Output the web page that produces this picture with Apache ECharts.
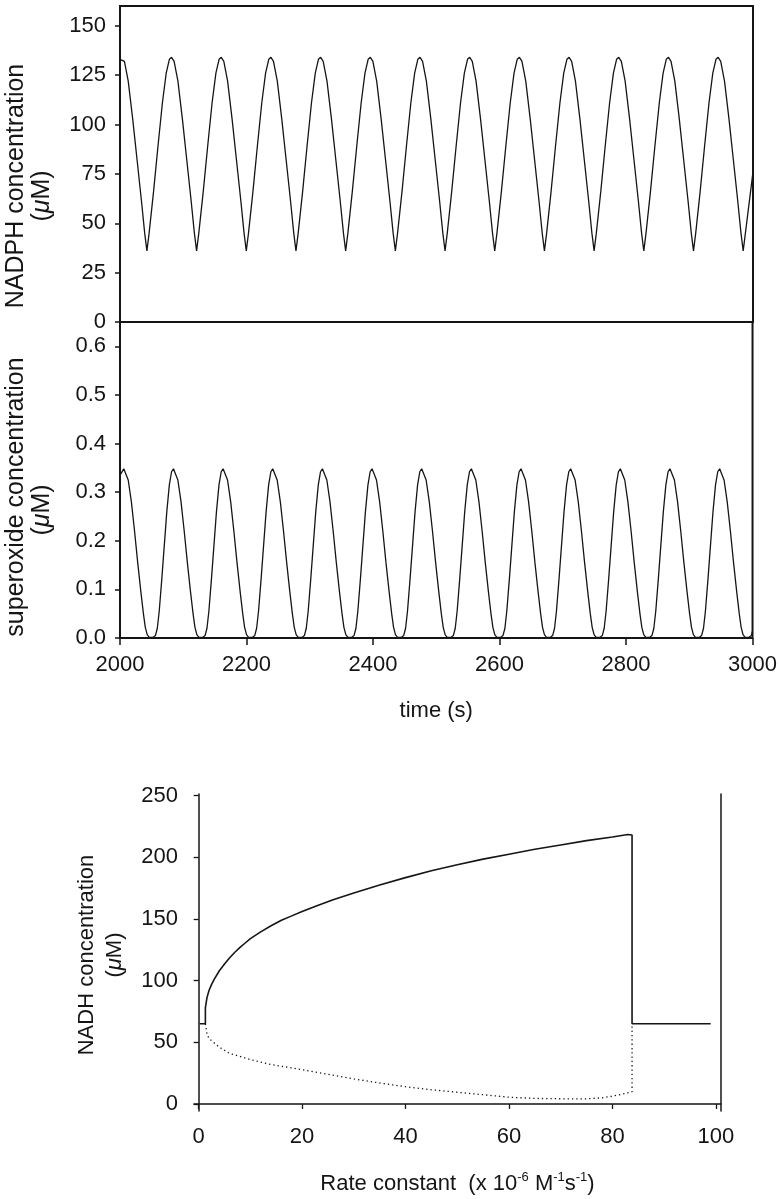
<!DOCTYPE html>
<html>
<head>
<meta charset="utf-8">
<script src="https://cdn.jsdelivr.net/npm/echarts@6/dist/echarts.min.js"></script>
<style>
html,body{margin:0;padding:0;background:#fff;}
#c{width:780px;height:1199px;}
</style>
</head>
<body>
<div id="c"></div>
<script>
// ---------- Panel A: NADPH (µM) vs time (s) ----------
var nadphTime = [
  2000,
  2003, 2007, 2013, 2020, 2027, 2034, 2039, 2042.5, 2046, 2053, 2060, 2067, 2073, 2078,
  2081.5, 2085.5, 2091.5, 2098.5, 2105.5, 2112.5, 2117.5, 2121, 2124.5, 2131.5, 2138.5, 2145.5, 2151.5, 2156.5,
  2160, 2164, 2170, 2177, 2184, 2191, 2196, 2199.5, 2203, 2210, 2217, 2224, 2230, 2235,
  2238.5, 2242.5, 2248.5, 2255.5, 2262.5, 2269.5, 2274.5, 2278, 2281.5, 2288.5, 2295.5, 2302.5, 2308.5, 2313.5,
  2317, 2321, 2327, 2334, 2341, 2348, 2353, 2356.5, 2360, 2367, 2374, 2381, 2387, 2392,
  2395.5, 2399.5, 2405.5, 2412.5, 2419.5, 2426.5, 2431.5, 2435, 2438.5, 2445.5, 2452.5, 2459.5, 2465.5, 2470.5,
  2474, 2478, 2484, 2491, 2498, 2505, 2510, 2513.5, 2517, 2524, 2531, 2538, 2544, 2549,
  2552.5, 2556.5, 2562.5, 2569.5, 2576.5, 2583.5, 2588.5, 2592, 2595.5, 2602.5, 2609.5, 2616.5, 2622.5, 2627.5,
  2631, 2635, 2641, 2648, 2655, 2662, 2667, 2670.5, 2674, 2681, 2688, 2695, 2701, 2706,
  2709.5, 2713.5, 2719.5, 2726.5, 2733.5, 2740.5, 2745.5, 2749, 2752.5, 2759.5, 2766.5, 2773.5, 2779.5, 2784.5,
  2788, 2792, 2798, 2805, 2812, 2819, 2824, 2827.5, 2831, 2838, 2845, 2852, 2858, 2863,
  2866.5, 2870.5, 2876.5, 2883.5, 2890.5, 2897.5, 2902.5, 2906, 2909.5, 2916.5, 2923.5, 2930.5, 2936.5, 2941.5,
  2945, 2949, 2955, 2962, 2969, 2976, 2981, 2984.5, 2988, 3000
];
var nadphValue = [
  133,
  134, 132, 122, 103, 82, 61, 45, 36, 45, 66, 89, 111, 126, 133,
  134, 132, 122, 103, 82, 61, 45, 36, 45, 66, 89, 111, 126, 133,
  134, 132, 122, 103, 82, 61, 45, 36, 45, 66, 89, 111, 126, 133,
  134, 132, 122, 103, 82, 61, 45, 36, 45, 66, 89, 111, 126, 133,
  134, 132, 122, 103, 82, 61, 45, 36, 45, 66, 89, 111, 126, 133,
  134, 132, 122, 103, 82, 61, 45, 36, 45, 66, 89, 111, 126, 133,
  134, 132, 122, 103, 82, 61, 45, 36, 45, 66, 89, 111, 126, 133,
  134, 132, 122, 103, 82, 61, 45, 36, 45, 66, 89, 111, 126, 133,
  134, 132, 122, 103, 82, 61, 45, 36, 45, 66, 89, 111, 126, 133,
  134, 132, 122, 103, 82, 61, 45, 36, 45, 66, 89, 111, 126, 133,
  134, 132, 122, 103, 82, 61, 45, 36, 45, 66, 89, 111, 126, 133,
  134, 132, 122, 103, 82, 61, 45, 36, 45, 66, 89, 111, 126, 133,
  134, 132, 122, 103, 82, 61, 45, 36, 45, 76
];

// ---------- Panel B: superoxide (µM) vs time (s) ----------
var superoxideTime = [
  2000,
  2006, 2009, 2013, 2018, 2023, 2028, 2033, 2037, 2040, 2043, 2046, 2052, 2056, 2059, 2062, 2066, 2070, 2074, 2078, 2081.5,
  2084.5, 2087.5, 2091.5, 2096.5, 2101.5, 2106.5, 2111.5, 2115.5, 2118.5, 2121.5, 2124.5, 2130.5, 2134.5, 2137.5, 2140.5, 2144.5, 2148.5, 2152.5, 2156.5, 2160,
  2163, 2166, 2170, 2175, 2180, 2185, 2190, 2194, 2197, 2200, 2203, 2209, 2213, 2216, 2219, 2223, 2227, 2231, 2235, 2238.5,
  2241.5, 2244.5, 2248.5, 2253.5, 2258.5, 2263.5, 2268.5, 2272.5, 2275.5, 2278.5, 2281.5, 2287.5, 2291.5, 2294.5, 2297.5, 2301.5, 2305.5, 2309.5, 2313.5, 2317,
  2320, 2323, 2327, 2332, 2337, 2342, 2347, 2351, 2354, 2357, 2360, 2366, 2370, 2373, 2376, 2380, 2384, 2388, 2392, 2395.5,
  2398.5, 2401.5, 2405.5, 2410.5, 2415.5, 2420.5, 2425.5, 2429.5, 2432.5, 2435.5, 2438.5, 2444.5, 2448.5, 2451.5, 2454.5, 2458.5, 2462.5, 2466.5, 2470.5, 2474,
  2477, 2480, 2484, 2489, 2494, 2499, 2504, 2508, 2511, 2514, 2517, 2523, 2527, 2530, 2533, 2537, 2541, 2545, 2549, 2552.5,
  2555.5, 2558.5, 2562.5, 2567.5, 2572.5, 2577.5, 2582.5, 2586.5, 2589.5, 2592.5, 2595.5, 2601.5, 2605.5, 2608.5, 2611.5, 2615.5, 2619.5, 2623.5, 2627.5, 2631,
  2634, 2637, 2641, 2646, 2651, 2656, 2661, 2665, 2668, 2671, 2674, 2680, 2684, 2687, 2690, 2694, 2698, 2702, 2706, 2709.5,
  2712.5, 2715.5, 2719.5, 2724.5, 2729.5, 2734.5, 2739.5, 2743.5, 2746.5, 2749.5, 2752.5, 2758.5, 2762.5, 2765.5, 2768.5, 2772.5, 2776.5, 2780.5, 2784.5, 2788,
  2791, 2794, 2798, 2803, 2808, 2813, 2818, 2822, 2825, 2828, 2831, 2837, 2841, 2844, 2847, 2851, 2855, 2859, 2863, 2866.5,
  2869.5, 2872.5, 2876.5, 2881.5, 2886.5, 2891.5, 2896.5, 2900.5, 2903.5, 2906.5, 2909.5, 2915.5, 2919.5, 2922.5, 2925.5, 2929.5, 2933.5, 2937.5, 2941.5, 2945,
  2948, 2951, 2955, 2960, 2965, 2970, 2975, 2979, 2982, 2985, 2988, 2994, 2998, 3000
];
var superoxideValue = [
  0.335,
  0.348, 0.344, 0.325, 0.28, 0.22, 0.155, 0.095, 0.05, 0.022, 0.007, 0.002, 0.001, 0.005, 0.02, 0.055, 0.12, 0.19, 0.26, 0.315, 0.342,
  0.348, 0.344, 0.325, 0.28, 0.22, 0.155, 0.095, 0.05, 0.022, 0.007, 0.002, 0.001, 0.005, 0.02, 0.055, 0.12, 0.19, 0.26, 0.315, 0.342,
  0.348, 0.344, 0.325, 0.28, 0.22, 0.155, 0.095, 0.05, 0.022, 0.007, 0.002, 0.001, 0.005, 0.02, 0.055, 0.12, 0.19, 0.26, 0.315, 0.342,
  0.348, 0.344, 0.325, 0.28, 0.22, 0.155, 0.095, 0.05, 0.022, 0.007, 0.002, 0.001, 0.005, 0.02, 0.055, 0.12, 0.19, 0.26, 0.315, 0.342,
  0.348, 0.344, 0.325, 0.28, 0.22, 0.155, 0.095, 0.05, 0.022, 0.007, 0.002, 0.001, 0.005, 0.02, 0.055, 0.12, 0.19, 0.26, 0.315, 0.342,
  0.348, 0.344, 0.325, 0.28, 0.22, 0.155, 0.095, 0.05, 0.022, 0.007, 0.002, 0.001, 0.005, 0.02, 0.055, 0.12, 0.19, 0.26, 0.315, 0.342,
  0.348, 0.344, 0.325, 0.28, 0.22, 0.155, 0.095, 0.05, 0.022, 0.007, 0.002, 0.001, 0.005, 0.02, 0.055, 0.12, 0.19, 0.26, 0.315, 0.342,
  0.348, 0.344, 0.325, 0.28, 0.22, 0.155, 0.095, 0.05, 0.022, 0.007, 0.002, 0.001, 0.005, 0.02, 0.055, 0.12, 0.19, 0.26, 0.315, 0.342,
  0.348, 0.344, 0.325, 0.28, 0.22, 0.155, 0.095, 0.05, 0.022, 0.007, 0.002, 0.001, 0.005, 0.02, 0.055, 0.12, 0.19, 0.26, 0.315, 0.342,
  0.348, 0.344, 0.325, 0.28, 0.22, 0.155, 0.095, 0.05, 0.022, 0.007, 0.002, 0.001, 0.005, 0.02, 0.055, 0.12, 0.19, 0.26, 0.315, 0.342,
  0.348, 0.344, 0.325, 0.28, 0.22, 0.155, 0.095, 0.05, 0.022, 0.007, 0.002, 0.001, 0.005, 0.02, 0.055, 0.12, 0.19, 0.26, 0.315, 0.342,
  0.348, 0.344, 0.325, 0.28, 0.22, 0.155, 0.095, 0.05, 0.022, 0.007, 0.002, 0.001, 0.005, 0.02, 0.055, 0.12, 0.19, 0.26, 0.315, 0.342,
  0.348, 0.344, 0.325, 0.28, 0.22, 0.155, 0.095, 0.05, 0.022, 0.007, 0.002, 0.001, 0.005, 0.014
];

// ---------- Panel C: NADH (µM) vs rate constant ----------
var upperRate = [0.2, 1.3, 1.3, 1.6, 2, 2.5, 3, 4, 5, 6, 7, 8, 9, 10, 12, 14, 16, 18, 20, 23, 26, 30, 35, 40, 45, 50, 55, 60, 65, 70, 75, 80, 83, 83.8, 83.8, 99];
var upperNADH = [65, 65, 78, 86, 92, 97, 101, 108, 113.5, 118.5, 123, 127, 130.5, 134, 139.5, 144.5, 149, 152.5, 156, 161, 165.5, 171, 177.5, 183.5, 189, 194, 198.5, 202.5, 206.5, 210, 213.5, 216.5, 218.5, 218, 65, 65];
var lowerRate = [1.3, 1.6, 2, 4, 6, 10, 14, 20, 25, 30, 35, 40, 45, 50, 55, 60, 65, 70, 75, 78, 80, 82, 83.8, 83.8];
var lowerNADH = [65, 57, 53, 46, 41, 36, 32, 27.8, 24, 20.3, 17, 14, 11.5, 9.5, 7.5, 5.5, 4.5, 4.2, 4.2, 5, 6.3, 8, 10, 65];

// tick labels
var nadhTicks = [0, 50, 100, 150, 200, 250];
var rateTicks = [0, 20, 40, 60, 80, 100];

function zip(a, b) { return a.map(function (v, i) { return [v, b[i]]; }); }

var FONT = '"Liberation Sans", Arial, Helvetica, sans-serif';
var INK = '#151515';
var tickLabel = { color: INK, fontFamily: FONT, fontSize: 22 };
function plain(v) { return String(v); }

var chart = echarts.init(document.getElementById('c'), null, { renderer: 'canvas' });

var option = {
  animation: false,
  backgroundColor: '#fff',
  grid: [
    { left: 120, top: 6, width: 633, height: 316, show: true, borderColor: INK, borderWidth: 2, backgroundColor: 'transparent' },
    { left: 120, top: 322, width: 633, height: 316, show: true, borderColor: INK, borderWidth: 2, backgroundColor: 'transparent' },
    { left: 194, top: 794, width: 527, height: 317 }
  ],
  xAxis: [
    { gridIndex: 0, type: 'value', min: 2000, max: 3000, interval: 200,
      axisLine: { show: false }, axisTick: { show: false }, axisLabel: { show: false }, splitLine: { show: false } },
    { gridIndex: 1, type: 'value', min: 2000, max: 3000, interval: 200,
      axisLine: { show: false },
      axisTick: { show: true, length: 7, lineStyle: { color: INK, width: 1.5 } },
      axisLabel: Object.assign({ margin: 16, formatter: plain }, tickLabel),
      splitLine: { show: false },
      name: 'time (s)', nameLocation: 'middle', nameGap: 62,
      nameTextStyle: { color: INK, fontFamily: FONT, fontSize: 22 } },
    { gridIndex: 2, type: 'value', min: -0.9, max: 101,
      axisLine: { show: true, lineStyle: { color: INK, width: 1.5 } },
      axisTick: { show: true, length: 5, customValues: rateTicks, lineStyle: { color: INK, width: 1.3 } },
      axisLabel: Object.assign({ margin: 15, customValues: rateTicks, formatter: plain }, tickLabel),
      splitLine: { show: false },
      name: 'Rate constant  (x 10{sup|-6} M{sup|-1}s{sup|-1})', nameLocation: 'middle', nameGap: 60,
      nameTextStyle: { color: INK, fontFamily: FONT, fontSize: 22,
        rich: { sup: { fontSize: 13, fontFamily: FONT, color: INK, padding: [0, 0, 12, 0] } } } }
  ],
  yAxis: [
    { gridIndex: 0, type: 'value', min: 0, max: 160, interval: 25,
      axisLine: { show: false },
      axisTick: { show: true, length: 5, lineStyle: { color: INK, width: 1.5 } },
      axisLabel: Object.assign({ margin: 14, showMaxLabel: false, formatter: plain }, tickLabel),
      splitLine: { show: false } },
    { gridIndex: 1, type: 'value', min: 0, max: 0.65, interval: 0.1,
      axisLine: { show: false },
      axisTick: { show: true, length: 5, lineStyle: { color: INK, width: 1.5 } },
      axisLabel: Object.assign({ margin: 14, showMaxLabel: false, formatter: function (v) { return v.toFixed(1); } }, tickLabel),
      splitLine: { show: false } },
    { gridIndex: 2, type: 'value', min: -5.7, max: 251.3,
      axisLine: { show: true, lineStyle: { color: INK, width: 1.5 } },
      axisTick: { show: true, length: 5, customValues: nadhTicks, lineStyle: { color: INK, width: 1.3 } },
      axisLabel: Object.assign({ margin: 16, customValues: nadhTicks, formatter: plain }, tickLabel),
      splitLine: { show: false } },
    { gridIndex: 2, type: 'value', position: 'right', min: -5.7, max: 251.3,
      axisLine: { show: true, lineStyle: { color: INK, width: 1.5 } },
      axisTick: { show: false }, axisLabel: { show: false }, splitLine: { show: false } }
  ],
  graphic: [
    { type: 'text', x: 16, y: 186, rotation: Math.PI / 2,
      style: { text: 'NADPH concentration', font: '25px ' + FONT, fill: INK, align: 'center', verticalAlign: 'middle' } },
    { type: 'text', x: 42, y: 196, rotation: Math.PI / 2,
      style: { text: '({it|μ}M)', font: '25px ' + FONT, fill: INK, align: 'center', verticalAlign: 'middle',
        rich: { it: { fontStyle: 'italic', fontSize: 25, fontFamily: FONT, fill: INK } } } },
    { type: 'text', x: 16, y: 497, rotation: Math.PI / 2,
      style: { text: 'superoxide concentration', font: '25px ' + FONT, fill: INK, align: 'center', verticalAlign: 'middle' } },
    { type: 'text', x: 42, y: 510, rotation: Math.PI / 2,
      style: { text: '({it|μ}M)', font: '25px ' + FONT, fill: INK, align: 'center', verticalAlign: 'middle',
        rich: { it: { fontStyle: 'italic', fontSize: 25, fontFamily: FONT, fill: INK } } } },
    { type: 'text', x: 87, y: 955, rotation: Math.PI / 2,
      style: { text: 'NADH concentration', font: '22px ' + FONT, fill: INK, align: 'center', verticalAlign: 'middle' } },
    { type: 'text', x: 115, y: 955, rotation: Math.PI / 2,
      style: { text: '({it|μ}M)', font: '22px ' + FONT, fill: INK, align: 'center', verticalAlign: 'middle',
        rich: { it: { fontStyle: 'italic', fontSize: 22, fontFamily: FONT, fill: INK } } } }
  ],
  series: [
    { type: 'line', xAxisIndex: 0, yAxisIndex: 0, data: zip(nadphTime, nadphValue), showSymbol: false,
      lineStyle: { color: INK, width: 1.3 }, silent: true },
    { type: 'line', xAxisIndex: 1, yAxisIndex: 1, data: zip(superoxideTime, superoxideValue), showSymbol: false,
      lineStyle: { color: INK, width: 1.3 }, silent: true },
    { type: 'line', xAxisIndex: 2, yAxisIndex: 2, data: zip(upperRate, upperNADH), showSymbol: false,
      lineStyle: { color: INK, width: 1.6 }, silent: true },
    { type: 'line', xAxisIndex: 2, yAxisIndex: 2, data: zip(lowerRate, lowerNADH), showSymbol: false,
      lineStyle: { color: INK, width: 1.3, type: [1.3, 3] }, silent: true }
  ]
};
chart.setOption(option);
</script>
</body>
</html>
